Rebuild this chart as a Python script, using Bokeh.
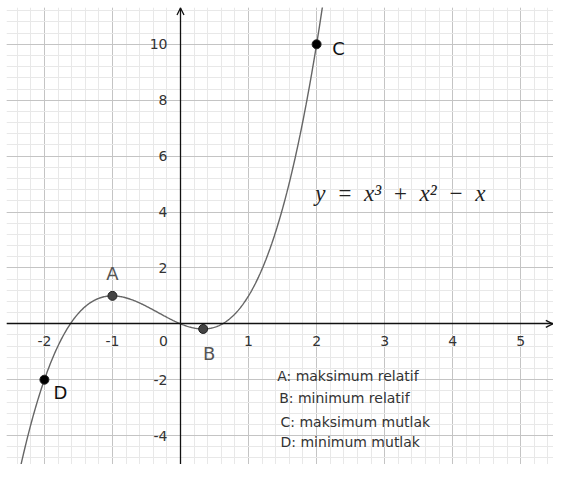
import numpy as np
from bokeh.plotting import figure
from bokeh.models import FixedTicker, SingleIntervalTicker, Arrow, OpenHead, ColumnDataSource
from bokeh.core.properties import value
from bokeh.embed import file_html
from bokeh.resources import INLINE

# ---- data ----
coeffs = [1, 1, -1, 0]            # y = x^3 + x^2 - x
curve_x_min, curve_x_max = -2.6, 2.3

pt_names = ["A", "B", "C", "D"]
pt_x = [-1.0, 1.0 / 3.0, 2.0, -2.0]
pt_y = [1.0, -5.0 / 27.0, 10.0, -2.0]

x_ticks = [-2, -1, 1, 2, 3, 4, 5]
x_tick_labels = ["-2", "-1", "1", "2", "3", "4", "5"]
y_ticks = [-4, -2, 2, 4, 6, 8, 10]
y_tick_labels = ["-4", "-2", "2", "4", "6", "8", "10"]

legend_lines = ["A: maksimum relatif", "B: minimum relatif",
                "C: maksimum mutlak", "D: minimum mutlak"]
legend_x = [1.42, 1.45, 1.47, 1.47]
legend_y = [-1.85, -2.67, -3.50, -4.24]

equation = "y\u2002=\u2002x\u00b3\u2002+\u2002x\u00b2\u2002\u2212\u2002x"
eq_x, eq_y = 1.98, 4.67

# ---- figure ----
W, H = 553, 464
BL, BT = 6, 7
FW, FH = W - BL, H - BT
px_x, px_y = 68.05, 27.95
x0 = -(180.0 - BL) / px_x
x1 = x0 + FW / px_x
y1 = (323.3 - BT) / px_y
y0 = y1 - FH / px_y

p = figure(width=W, height=H, x_range=(x0, x1), y_range=(y0, y1),
           output_backend="svg", toolbar_location=None,
           min_border_left=BL, min_border_top=BT, min_border_right=0, min_border_bottom=0,
           background_fill_color="white", border_fill_color="white")
p.outline_line_color = None

# grid
p.xgrid.ticker = SingleIntervalTicker(interval=1, num_minor_ticks=5)
p.ygrid.ticker = SingleIntervalTicker(interval=2, num_minor_ticks=5)
p.grid.grid_line_color = "#c4c4c4"
p.grid.grid_line_width = 1
p.grid.minor_grid_line_color = "#e8e8e8"
p.grid.minor_grid_line_width = 1

# axes through the origin
for ax, ticks, labels in ((p.xaxis, x_ticks, x_tick_labels), (p.yaxis, y_ticks, y_tick_labels)):
    ax.fixed_location = 0
    ax.ticker = FixedTicker(ticks=ticks)
    ax.major_label_overrides = {t: l for t, l in zip(ticks, labels)}
    ax.major_tick_line_color = None
    ax.minor_tick_line_color = None
    ax.axis_line_color = "#111111"
    ax.axis_line_width = 1.3
    ax.major_label_text_font = "DejaVu Sans"
    ax.major_label_text_font_size = "14px"
    ax.major_label_text_color = "#333333"
p.xaxis.major_label_standoff = 6
p.yaxis.major_label_standoff = 7

# origin label
p.text(x=[0], y=[0], text=["0"], x_offset=-17, y_offset=17,
       text_align="center", text_baseline="middle",
       text_font=value("DejaVu Sans"), text_font_size="14px", text_color="#333333")

# arrow heads
p.add_layout(Arrow(end=OpenHead(size=7, line_width=1.3, line_color="#111111"),
                   x_start=x1 - 0.3, y_start=0, x_end=x1 - 0.01, y_end=0,
                   line_alpha=0))
p.add_layout(Arrow(end=OpenHead(size=7, line_width=1.3, line_color="#111111"),
                   x_start=0, y_start=y1 - 0.5, x_end=0, y_end=y1 - 0.02,
                   line_alpha=0))

# curve
cx = np.linspace(curve_x_min, curve_x_max, 400)
cy = np.polyval(coeffs, cx)
p.line(cx, cy, line_color="#666666", line_width=1.4)

# points
pt_colors = ["#444444", "#444444", "#000000", "#000000"]
src = ColumnDataSource(dict(x=pt_x, y=pt_y, name=pt_names, color=pt_colors,
                            dx=[0, 6, 22, 16], dy=[-22, 25, 4, 13],
                            tc=["#555555", "#555555", "#111111", "#111111"]))
p.scatter("x", "y", source=src, size=9, fill_color="color", line_color="#222222", line_width=1)
p.text("x", "y", text="name", source=src, x_offset="dx", y_offset="dy",
       text_align="center", text_baseline="middle", text_color="tc",
       text_font=value("DejaVu Sans"), text_font_size="18px")

# equation
p.text(x=[eq_x], y=[eq_y], text=[equation], text_align="left", text_baseline="alphabetic",
       text_font=value("Liberation Serif"), text_font_style="italic",
       text_font_size="23px", text_color="#222222")

# legend notes
p.text(x=legend_x, y=legend_y, text=legend_lines, text_align="left", text_baseline="middle",
       text_font=value("DejaVu Sans"), text_font_size="14px", text_color="#333333")

open("out.html", "w").write(file_html(p, INLINE))
